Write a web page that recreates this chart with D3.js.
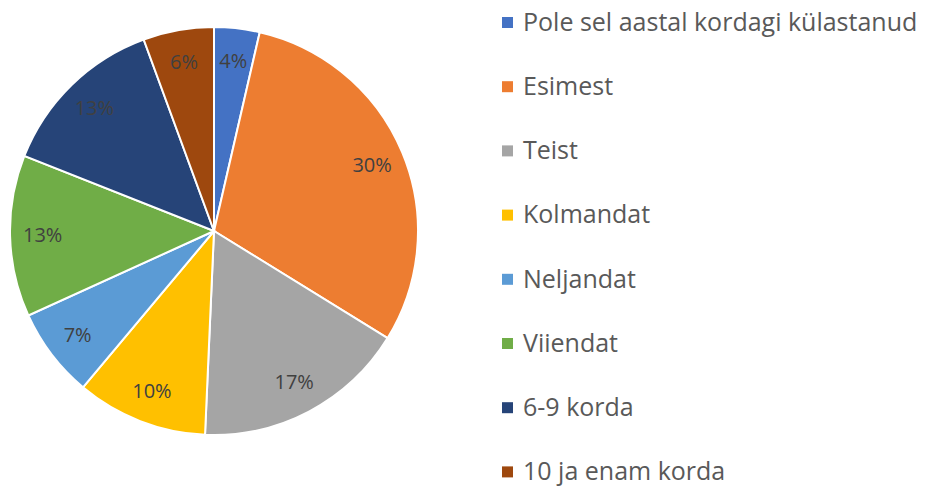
<!DOCTYPE html>
<html>
<head>
<meta charset="utf-8">
<script src="https://cdn.jsdelivr.net/npm/d3@7"></script>
<style>
  body { margin: 0; background: #fff; }
  svg { font-family: "Open Sans", "Liberation Sans", sans-serif; }
</style>
</head>
<body>
<svg width="927" height="489"></svg>
<script>
var categories = ["Pole sel aastal kordagi külastanud", "Esimest", "Teist", "Kolmandat",
                  "Neljandat", "Viiendat", "6-9 korda", "10 ja enam korda"];
var values = [3.6, 30.2, 16.9, 10.4, 7.1, 12.8, 13.4, 5.6];
var labels = ["4%", "30%", "17%", "10%", "7%", "13%", "13%", "6%"];
var colors = ["#4472C4", "#ED7D31", "#A5A5A5", "#FFC000", "#5B9BD5", "#70AD47", "#264478", "#9E480E"];

var svg = d3.select("svg");
var cx = 214, cy = 231, r = 204;

var pie = d3.pie().sort(null).value(function(d) { return d; });
var arc = d3.arc().innerRadius(0).outerRadius(r);
var labelArc = d3.arc().innerRadius(r * 0.84).outerRadius(r * 0.84);

var g = svg.append("g").attr("transform", "translate(" + cx + "," + cy + ")");
var arcs = pie(values);

g.selectAll("path")
    .data(arcs)
    .enter().append("path")
    .attr("d", arc)
    .attr("fill", function(d, i) { return colors[i]; })
    .attr("stroke", "#fff")
    .attr("stroke-width", 2);

g.selectAll("text")
    .data(arcs)
    .enter().append("text")
    .attr("transform", function(d) { return "translate(" + labelArc.centroid(d) + ")"; })
    .attr("text-anchor", "middle")
    .attr("dy", "0.35em")
    .style("font-size", "20px")
    .style("fill", "#404040")
    .text(function(d, i) { return labels[i]; });

// legend
var legend = svg.append("g").attr("transform", "translate(502,22)");
var row = legend.selectAll("g")
    .data(categories)
    .enter().append("g")
    .attr("transform", function(d, i) { return "translate(0," + (i * 64.2) + ")"; });

row.append("rect")
    .attr("x", 0).attr("y", -5)
    .attr("width", 11).attr("height", 11)
    .attr("fill", function(d, i) { return colors[i]; });

row.append("text")
    .attr("x", 21)
    .attr("dy", "0.35em")
    .style("font-size", "25px")
    .style("fill", "#595959")
    .text(function(d) { return d; });
</script>
</body>
</html>
